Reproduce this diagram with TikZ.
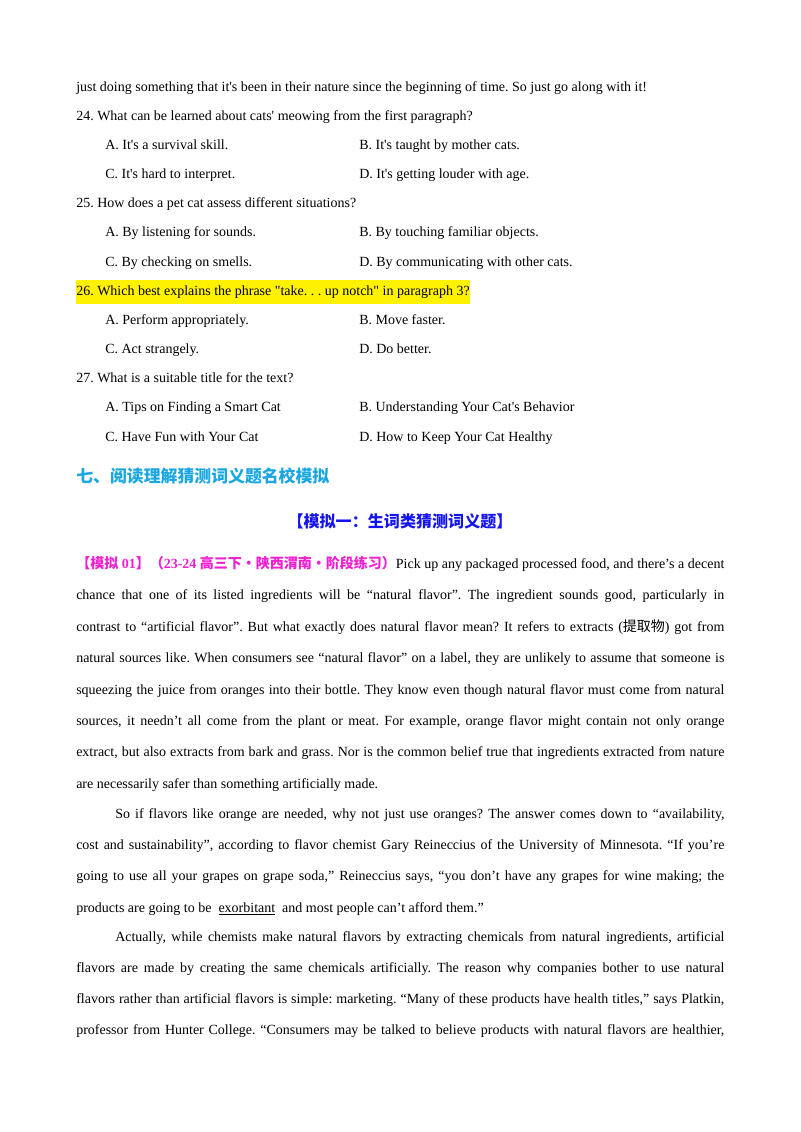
\documentclass[tikz,border=0pt]{standalone}
\usepackage{fontspec}
\setmainfont{Liberation Serif}
\newfontfamily\cjk{Noto Sans CJK SC}
\definecolor{hcyan}{HTML}{1AA6E0}
\definecolor{hblue}{HTML}{1414F0}
\definecolor{hmag}{HTML}{F020D0}
\newcommand\Q{\textquotesingle}
\newcommand\D{\textquotedbl}
\begin{document}
\frenchspacing
\begin{tikzpicture}[x=0.02625cm,y=-0.02625cm,
  txt/.style={anchor=base west,inner sep=0pt,font=\fontsize{10.45pt}{12pt}\selectfont}]
\useasboundingbox (0,0) rectangle (800,1132);
\newcommand\T[3]{\node[txt] (#1) at (#2) {#3};}
\newcommand\J[4]{\node[txt] (#1) at (#2) {\hbox to #3{#4}};}
\T{l1}{76,91}{just doing something that it\Q s been in their nature since the beginning of time. So just go along with it!}
\T{q24}{76,120}{24. What can be learned about cats\Q{} meowing from the first paragraph?}
\T{a24}{105,149}{A. It\Q s a survival skill.}
\T{b24}{359,149}{B. It\Q s taught by mother cats.}
\T{c24}{105,178}{C. It\Q s hard to interpret.}
\T{d24}{359,178}{D. It\Q s getting louder with age.}
\T{q25}{76,207}{25. How does a pet cat assess different situations?}
\T{a25}{105,236}{A. By listening for sounds.}
\T{b25}{359,236}{B. By touching familiar objects.}
\T{c25}{105,266}{C. By checking on smells.}
\T{d25}{359,266}{D. By communicating with other cats.}
\node[txt,fill=yellow,inner ysep=3pt,inner xsep=0pt] (q26) at (76,295) {\strut 26. Which best explains the phrase \D take. . . up notch\D{} in paragraph 3?};
\T{a26}{105,324}{A. Perform appropriately.}
\T{b26}{359,324}{B. Move faster.}
\T{c26}{105,353}{C. Act strangely.}
\T{d26}{359,353}{D. Do better.}
\T{q27}{76,382}{27. What is a suitable title for the text?}
\T{a27}{105,411}{A. Tips on Finding a Smart Cat}
\T{b27}{359,411}{B. Understanding Your Cat\Q s Behavior}
\T{c27}{105,441}{C. Have Fun with Your Cat}
\T{d27}{359,441}{D. How to Keep Your Cat Healthy}
\node[anchor=base west,inner sep=0pt,font=\cjk\bfseries\fontsize{12.6pt}{14pt}\selectfont,text=hcyan] (h1) at (76,482) {七、阅读理解猜测词义题名校模拟};
\node[anchor=base,inner sep=0pt,font=\cjk\bfseries\fontsize{12pt}{14pt}\selectfont,text=hblue] (h2) at (400,527) {【模拟一：生词类猜测词义题】};
\J{p1}{76,568}{17.01cm}{{\bfseries\color{hmag}{\cjk 【模拟} 01{\cjk 】（}23-24 {\cjk 高三下·陕西渭南·阶段练习）}}Pick up any packaged processed food, and there’s a decent}
\J{p2}{76,599}{17.01cm}{chance that one of its listed ingredients will be “natural flavor”. The ingredient sounds good, particularly in}
\J{p3}{76,631}{17.01cm}{contrast to “artificial flavor”. But what exactly does natural flavor mean? It refers to extracts ({\cjk 提取物}) got from}
\J{p4}{76,662}{17.01cm}{natural sources like. When consumers see “natural flavor” on a label, they are unlikely to assume that someone is}
\J{p5}{76,694}{17.01cm}{squeezing the juice from oranges into their bottle. They know even though natural flavor must come from natural}
\J{p6}{76,725}{17.01cm}{sources, it needn’t all come from the plant or meat. For example, orange flavor might contain not only orange}
\J{p7}{76,756}{17.01cm}{extract, but also extracts from bark and grass. Nor is the common belief true that ingredients extracted from nature}
\T{p8}{76,788}{are necessarily safer than something artificially made.}
\J{p9}{115,818}{15.99cm}{So if flavors like orange are needed, why not just use oranges? The answer comes down to “availability,}
\J{p10}{76,849}{17.01cm}{cost and sustainability”, according to flavor chemist Gary Reineccius of the University of Minnesota. “If you’re}
\J{p11}{76,880}{17.01cm}{going to use all your grapes on grape soda,” Reineccius says, “you don’t have any grapes for wine making; the}
\T{p12}{76,912}{products are going to be \ \underline{exorbitant} \ and most people can’t afford them.”}
\J{p13}{115,941}{15.99cm}{Actually, while chemists make natural flavors by extracting chemicals from natural ingredients, artificial}
\J{p14}{76,972}{17.01cm}{flavors are made by creating the same chemicals artificially. The reason why companies bother to use natural}
\J{p15}{76,1003}{17.01cm}{flavors rather than artificial flavors is simple: marketing. “Many of these products have health titles,” says Platkin,}
\J{p16}{76,1034}{17.01cm}{professor from Hunter College. “Consumers may be talked to believe products with natural flavors are healthier,}
\end{tikzpicture}
\end{document}
